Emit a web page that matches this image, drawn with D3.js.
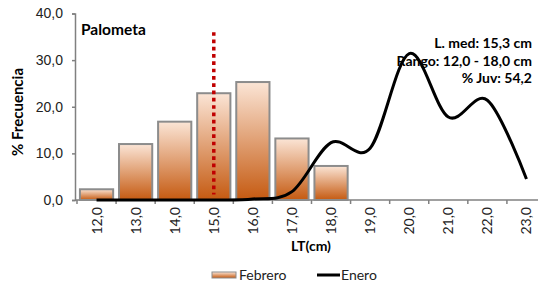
<!DOCTYPE html>
<html>
<head>
<meta charset="utf-8">
<script src="https://cdn.jsdelivr.net/npm/d3@7"></script>
<style>
  body { margin: 0; background: #fff; }
  svg { font-family: Lato, "Open Sans", sans-serif; }
</style>
</head>
<body>
<div id="chart"></div>
<script>
// categories (LT cm) and series
var tallas = ["12,0", "13,0", "14,0", "15,0", "16,0", "17,0", "18,0", "19,0", "20,0", "21,0", "22,0", "23,0"];
var febrero = [2.3, 12.0, 16.8, 22.9, 25.3, 13.2, 7.3, null, null, null, null, null];
var enero = [0.0, 0.0, 0.0, 0.0, 0.2, 1.8, 12.3, 11.1, 31.4, 17.8, 21.4, 4.5];
var yTicks = [0, 10, 20, 30, 40];
var notas = ["L. med: 15,3 cm", "Rango: 12,0 - 18,0 cm", "% Juv: 54,2"];
var tallaMedia = "15,0";

var width = 538, height = 286;
var svg = d3.select("#chart").append("svg")
  .attr("width", width)
  .attr("height", height);

var defs = svg.append("defs");
var grad = defs.append("linearGradient")
  .attr("id", "naranja")
  .attr("x1", 0).attr("y1", 0).attr("x2", 0).attr("y2", 1);
grad.append("stop").attr("offset", "0%").attr("stop-color", "#fbe5d6");
grad.append("stop").attr("offset", "100%").attr("stop-color", "#c55a11");

var x = d3.scaleBand()
  .domain(tallas)
  .range([77, 546])
  .paddingInner(0.15)
  .paddingOuter(0.075);

var y = d3.scaleLinear()
  .domain([0, 40])
  .range([200, 13.5]);

// y axis
var yAxis = svg.append("g")
  .attr("transform", "translate(75,0)")
  .call(d3.axisLeft(y).tickValues(yTicks).tickSize(3).tickPadding(9)
    .tickFormat(function (d) { return d3.format(".1f")(d).replace(".", ","); }));
yAxis.select(".domain").attr("stroke", "#808080").attr("stroke-width", 1.5);
yAxis.selectAll(".tick line").attr("stroke", "#808080").attr("stroke-width", 1.5);
yAxis.selectAll(".tick text").attr("fill", "#222").style("font-size", "14px");

// x axis baseline + ticks at band edges
var xg = svg.append("g");
xg.append("line")
  .attr("x1", 75).attr("x2", width)
  .attr("y1", y(0)).attr("y2", y(0))
  .attr("stroke", "#808080").attr("stroke-width", 1.5);
xg.selectAll(".xt")
  .data(tallas)
  .enter().append("line")
  .attr("class", "xt")
  .attr("x1", function (d) { return x(d) - x.step() * 0.075; })
  .attr("x2", function (d) { return x(d) - x.step() * 0.075; })
  .attr("y1", y(0)).attr("y2", y(0) + 4)
  .attr("stroke", "#808080").attr("stroke-width", 1.5);
xg.selectAll(".xl")
  .data(tallas)
  .enter().append("text")
  .attr("class", "xl")
  .attr("transform", function (d) {
    return "translate(" + (x(d) + x.bandwidth() / 2 + 5) + "," + (y(0) + 7) + ") rotate(-90)";
  })
  .attr("text-anchor", "end")
  .attr("fill", "#222")
  .style("font-size", "14px")
  .text(function (d) { return d; });

// bars
svg.selectAll(".bar")
  .data(tallas.map(function (t, i) { return { t: t, v: febrero[i] }; })
    .filter(function (d) { return d.v != null; }))
  .enter().append("rect")
  .attr("class", "bar")
  .attr("x", function (d) { return x(d.t); })
  .attr("width", x.bandwidth())
  .attr("y", function (d) { return y(d.v); })
  .attr("height", function (d) { return y(0) - y(d.v); })
  .attr("fill", "url(#naranja)")
  .attr("stroke", "#8c8c8c")
  .attr("stroke-width", 2);

// vertical dotted line at mean length
svg.append("line")
  .attr("x1", x(tallaMedia) + x.bandwidth() / 2)
  .attr("x2", x(tallaMedia) + x.bandwidth() / 2)
  .attr("y1", y(36))
  .attr("y2", y(1.2))
  .attr("stroke", "#c00000")
  .attr("stroke-width", 3.5)
  .attr("stroke-dasharray", "3.7,3.6");

// Enero smoothed line
var line = d3.line()
  .x(function (d, i) { return x(tallas[i]) + x.bandwidth() / 2; })
  .y(function (d) { return y(d); })
  .curve(d3.curveCatmullRom.alpha(0));
svg.append("path")
  .datum(enero)
  .attr("d", line)
  .attr("fill", "none")
  .attr("stroke", "#000")
  .attr("stroke-width", 3);

// texts
svg.append("text")
  .attr("x", 81).attr("y", 35)
  .style("font-size", "15.5px").style("font-weight", "bold")
  .text("Palometa");

svg.append("text")
  .attr("transform", "translate(23,112) rotate(-90)")
  .attr("text-anchor", "middle")
  .style("font-size", "15px").style("font-weight", "bold")
  .text("% Frecuencia");

svg.append("text")
  .attr("x", 311).attr("y", 251)
  .attr("text-anchor", "middle")
  .style("font-size", "14px").style("font-weight", "bold")
  .text("LT(cm)");

svg.selectAll(".nota")
  .data(notas)
  .enter().append("text")
  .attr("class", "nota")
  .attr("x", 532)
  .attr("y", function (d, i) { return 48 + i * 17.5; })
  .attr("text-anchor", "end")
  .style("font-size", "14px").style("font-weight", "bold")
  .text(function (d) { return d; });

// legend
var leg = svg.append("g");
leg.append("rect")
  .attr("x", 212).attr("y", 272).attr("width", 24).attr("height", 6)
  .attr("fill", "url(#naranja)").attr("stroke", "#8c8c8c").attr("stroke-width", 1);
leg.append("text")
  .attr("x", 239).attr("y", 280)
  .style("font-size", "14px").attr("fill", "#222")
  .text("Febrero");
leg.append("line")
  .attr("x1", 317).attr("x2", 340).attr("y1", 275).attr("y2", 275)
  .attr("stroke", "#000").attr("stroke-width", 3);
leg.append("text")
  .attr("x", 341).attr("y", 280)
  .style("font-size", "14px").attr("fill", "#222")
  .text("Enero");
</script>
</body>
</html>
